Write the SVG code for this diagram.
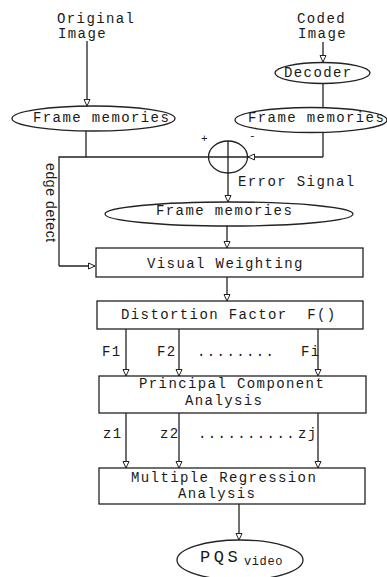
<svg xmlns="http://www.w3.org/2000/svg" width="387" height="577" viewBox="0 0 387 577">
<defs>
<marker id="arr" viewBox="0 0 8 8" refX="7.5" refY="4" markerWidth="8" markerHeight="8" markerUnits="userSpaceOnUse" orient="auto">
<path d="M1,1 L7.5,4 L1,7 z" fill="#fff" stroke="#222" stroke-width="1"/>
</marker>
<style>
.t{font-family:"Liberation Mono","Courier New",monospace;font-size:14px;letter-spacing:1.4px;fill:#1a1a1a}
.s{fill:none;stroke:#222;stroke-width:1.3}
.b{fill:#fff;stroke:#222;stroke-width:1.3}
.c{fill:none;stroke:#222;stroke-width:1.3}
.a{marker-end:url(#arr)}
</style>
</defs>
<rect width="387" height="577" fill="#fff"/>

<g id="connectors" class="c">
<path class="c a" d="M87,41 V106"/>
<path class="c a" d="M323,42 V62"/>
<path class="c" d="M323,83 V108"/>
<path class="c" d="M86,131 V157 H59 V266"/>
<path class="c a" d="M59,266 H95"/>
<path class="c" d="M86,157 H208.5"/>
<path class="c" d="M323,132 V157"/>
<path class="c a" d="M323,157 H248"/>
<path class="c a" d="M228,173 V202"/>
<path class="c a" d="M227,226 V248"/>
<path class="c a" d="M227,277 V301"/>
<path class="c a" d="M126,329 V376"/>
<path class="c a" d="M179,329 V376"/>
<path class="c a" d="M318,329 V376"/>
<path class="c a" d="M126,413 V468"/>
<path class="c a" d="M179,413 V468"/>
<path class="c a" d="M318,413 V468"/>
<path class="c a" d="M239,504 V540"/>
</g>

<g id="original-image">
<text class="t" x="57" y="23">Original</text>
<text class="t" x="58" y="38">Image</text>
</g>

<g id="coded-image">
<text class="t" x="297" y="23">Coded</text>
<text class="t" x="298" y="38">Image</text>
</g>

<g id="decoder">
<ellipse class="b" cx="322.5" cy="73" rx="47.5" ry="10.5"/>
<text class="t" x="284" y="77">Decoder</text>
</g>

<g id="frame-memories-left">
<ellipse class="b" cx="93.5" cy="118.5" rx="81.5" ry="12.5"/>
<text class="t" x="33" y="122">Frame memories</text>
</g>

<g id="frame-memories-right">
<ellipse class="b" cx="311" cy="120" rx="76" ry="12.5"/>
<text class="t" x="248" y="122">Frame memories</text>
</g>

<g id="adder">
<ellipse class="b" cx="228" cy="157" rx="19.5" ry="16"/>
<path class="s" d="M208.5,157 H247.5 M228,141 V173"/>
<text class="t" x="201" y="142" style="font-size:11px">+</text>
<text class="t" x="249" y="139" style="font-size:11px">-</text>
</g>

<g id="error-signal-label">
<text class="t" x="238" y="186">Error Signal</text>
</g>

<g id="edge-detect-label">
<text x="46" y="163" transform="rotate(90 46 163)" style="font-family:'Liberation Sans',Arial,sans-serif;font-size:14px;letter-spacing:0.6px;fill:#1a1a1a">edge detect</text>
</g>

<g id="frame-memories-mid">
<ellipse class="b" cx="229" cy="214" rx="124" ry="12"/>
<text class="t" x="156" y="215">Frame memories</text>
</g>

<g id="visual-weighting">
<rect class="b" x="96" y="248" width="267" height="29"/>
<text class="t" x="147" y="268">Visual Weighting</text>
</g>

<g id="distortion-factor">
<rect class="b" x="97" y="301" width="266" height="28"/>
<text class="t" x="121" y="319" xml:space="preserve">Distortion Factor  F()</text>
</g>

<g id="f-labels">
<text class="t" x="102" y="356">F1</text>
<text class="t" x="157" y="356">F2</text>
<text class="t" x="197" y="356">........</text>
<text class="t" x="301" y="356">Fi</text>
</g>

<g id="pca">
<rect class="b" x="99" y="376" width="267" height="37"/>
<text class="t" x="139" y="388">Principal Component</text>
<text class="t" x="185" y="405">Analysis</text>
</g>

<g id="z-labels">
<text class="t" x="103" y="438">z1</text>
<text class="t" x="160" y="438">z2</text>
<text class="t" x="198" y="438">..........</text>
<text class="t" x="298" y="438">zj</text>
</g>

<g id="mra">
<rect class="b" x="99" y="468" width="266" height="36"/>
<text class="t" x="131" y="482">Multiple Regression</text>
<text class="t" x="178" y="498">Analysis</text>
</g>

<g id="pqs">
<ellipse class="b" cx="240" cy="560" rx="63" ry="20"/>
<text class="t" x="200" y="562" style="font-size:17px;letter-spacing:3.5px">PQS</text>
<text class="t" x="244" y="565" style="font-size:12px;letter-spacing:0.6px">video</text>
</g>
</svg>
